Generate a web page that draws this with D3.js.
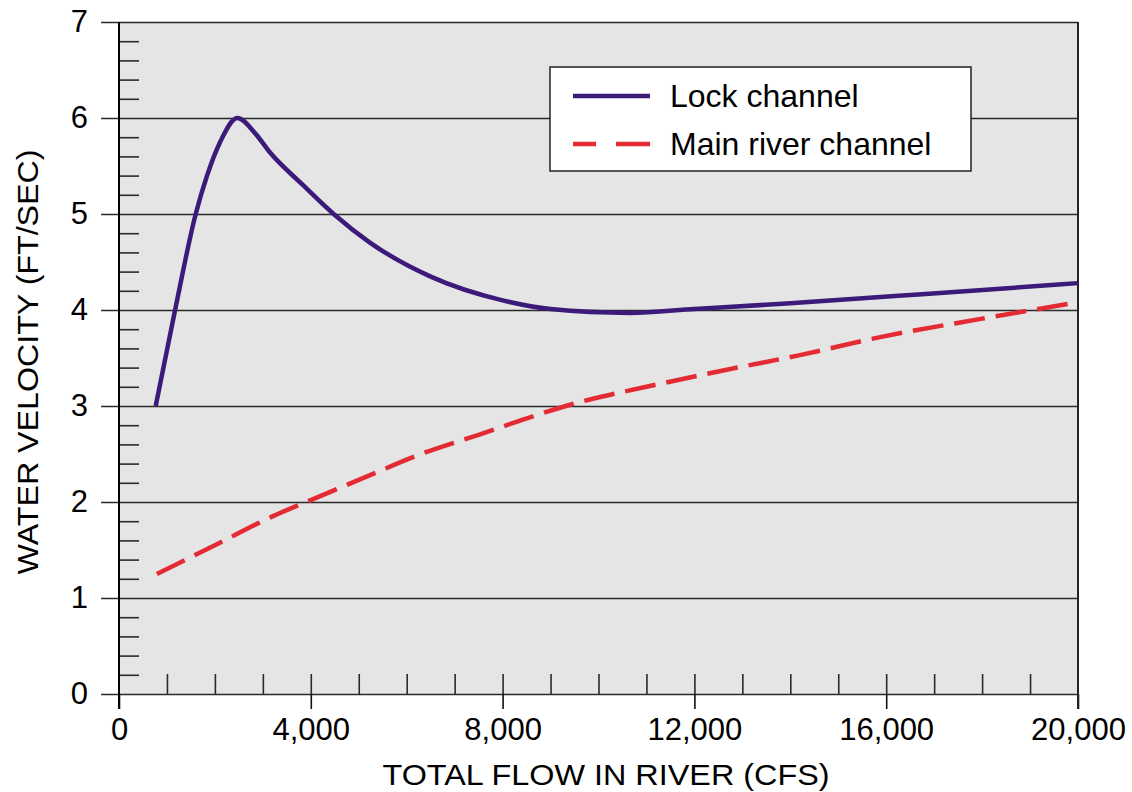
<!DOCTYPE html>
<html>
<head>
<meta charset="utf-8">
<script src="https://cdn.jsdelivr.net/npm/d3@7"></script>
<style>
  body { margin: 0; background: #fff; }
  text { font-family: "Liberation Sans", Arial, sans-serif; fill: #000; }
</style>
</head>
<body>
<svg width="1132" height="792"></svg>
<script>
// flow in river (cfs) and water velocity (ft/sec)
var lockFlow = [765, 1170, 1600, 1830, 2100, 2470, 2840, 3150, 3840, 4500, 5240, 6490, 8000, 9000, 10650, 12000, 14000, 16900, 20000];
var lockVel  = [3.0, 4.0, 5.0, 5.39, 5.74, 6.0, 5.84, 5.64, 5.30, 4.99, 4.70, 4.35, 4.10, 4.01, 3.97, 4.01, 4.07, 4.17, 4.28];

var mainFlow = [790, 2000, 3200, 4000, 5000, 6300, 7500, 8800, 9600, 11000, 12800, 14200, 15900, 18000, 20000];
var mainVel  = [1.25, 1.55, 1.85, 2.02, 2.23, 2.50, 2.70, 2.92, 3.04, 3.20, 3.39, 3.53, 3.72, 3.91, 4.08];

var seriesNames = ["Lock channel", "Main river channel"];
var xTicks = [0, 4000, 8000, 12000, 16000, 20000];
var yTicks = [0, 1, 2, 3, 4, 5, 6, 7];

var svg = d3.select("svg"),
    pLeft = 119, pRight = 1078, pTop = 22, pBottom = 694;

var x = d3.scaleLinear().domain([0, 20000]).range([pLeft, pRight]),
    y = d3.scaleLinear().domain([0, 7]).range([pBottom, pTop]);

svg.append("rect")
  .attr("x", pLeft).attr("y", pTop)
  .attr("width", pRight - pLeft).attr("height", pBottom - pTop)
  .attr("fill", "#e5e5e5");

// horizontal grid lines, running out past the axis
svg.append("g")
  .attr("transform", "translate(101,0)")
  .call(d3.axisRight(y).tickValues(yTicks).tickSize(pRight - 101).tickFormat(""))
  .call(function(g) { g.select(".domain").remove(); })
  .selectAll("line").attr("stroke", "#2a2a2a").attr("stroke-width", 1.6);

// y labels
svg.append("g")
  .attr("transform", "translate(" + pLeft + ",0)")
  .call(d3.axisLeft(y).tickValues(yTicks).tickSize(0).tickPadding(31).tickFormat(d3.format("d")))
  .call(function(g) { g.select(".domain").remove(); })
  .selectAll("text")
  .style("font-size", "31px")
  .style("font-family", "Liberation Sans, Arial, sans-serif");

// minor y ticks
var yMinor = d3.range(1, 35).map(function(i) { return i / 5; }).filter(function(v) { return Math.abs(v - Math.round(v)) > 1e-6; });
svg.append("g")
  .attr("transform", "translate(" + pLeft + ",0)")
  .call(d3.axisRight(y).tickValues(yMinor).tickSize(20).tickFormat(""))
  .call(function(g) { g.select(".domain").remove(); })
  .selectAll("line").attr("stroke", "#2a2a2a").attr("stroke-width", 1.6);

// minor x ticks
svg.append("g")
  .attr("transform", "translate(0," + pBottom + ")")
  .call(d3.axisTop(x).tickValues(d3.range(1000, 20000, 1000)).tickSize(20).tickFormat(""))
  .call(function(g) { g.select(".domain").remove(); })
  .selectAll("line").attr("stroke", "#2a2a2a").attr("stroke-width", 1.6);

// major x ticks and labels
svg.append("g")
  .attr("transform", "translate(0," + pBottom + ")")
  .call(d3.axisBottom(x).tickValues(xTicks).tickSize(15).tickPadding(9).tickFormat(d3.format(",")))
  .call(function(g) { g.select(".domain").remove(); })
  .call(function(g) { g.selectAll("line").attr("stroke", "#111").attr("stroke-width", 1.6); })
  .selectAll("text")
  .style("font-size", "31px")
  .style("font-family", "Liberation Sans, Arial, sans-serif");

// frame: left axis and right border
svg.append("line")
  .attr("x1", pLeft).attr("x2", pLeft).attr("y1", pTop).attr("y2", pBottom + 15)
  .attr("stroke", "#000").attr("stroke-width", 2);
svg.append("line")
  .attr("x1", pRight).attr("x2", pRight).attr("y1", pTop).attr("y2", pBottom + 15)
  .attr("stroke", "#222").attr("stroke-width", 2);

var line = d3.line()
  .curve(d3.curveMonotoneX)
  .x(function(d) { return x(d[0]); })
  .y(function(d) { return y(d[1]); });

svg.append("path")
  .datum(d3.zip(mainFlow, mainVel))
  .attr("fill", "none")
  .attr("stroke", "#e42a33")
  .attr("stroke-width", 4.5)
  .attr("stroke-dasharray", "31,11")
  .attr("d", line);

svg.append("path")
  .datum(d3.zip(lockFlow, lockVel))
  .attr("fill", "none")
  .attr("stroke", "#3c1a7a")
  .attr("stroke-width", 4.5)
  .attr("stroke-linejoin", "round")
  .attr("d", line);

// legend
var legend = svg.append("g");
legend.append("rect")
  .attr("x", 550).attr("y", 67).attr("width", 421).attr("height", 104)
  .attr("fill", "#fff").attr("stroke", "#222").attr("stroke-width", 1.5);
legend.append("line")
  .attr("x1", 573).attr("x2", 650).attr("y1", 96).attr("y2", 96)
  .attr("stroke", "#3c1a7a").attr("stroke-width", 4.5);
legend.append("line")
  .attr("x1", 573).attr("x2", 650).attr("y1", 144).attr("y2", 144)
  .attr("stroke", "#e42a33").attr("stroke-width", 4.5)
  .attr("stroke-dasharray", "23,20,34");
legend.selectAll("text.lab")
  .data(seriesNames)
  .enter().append("text")
  .attr("class", "lab")
  .attr("x", 670)
  .attr("y", function(d, i) { return 107 + i * 48; })
  .style("font-size", "32px")
  .text(function(d) { return d; });

// axis titles
svg.append("text")
  .attr("x", 606).attr("y", 785)
  .attr("text-anchor", "middle")
  .attr("textLength", 447).attr("lengthAdjust", "spacingAndGlyphs")
  .style("font-size", "30px")
  .text("TOTAL FLOW IN RIVER (CFS)");

svg.append("text")
  .attr("transform", "translate(38,362) rotate(-90)")
  .attr("text-anchor", "middle")
  .attr("textLength", 425).attr("lengthAdjust", "spacingAndGlyphs")
  .style("font-size", "30px")
  .text("WATER VELOCITY (FT/SEC)");
</script>
</body>
</html>
